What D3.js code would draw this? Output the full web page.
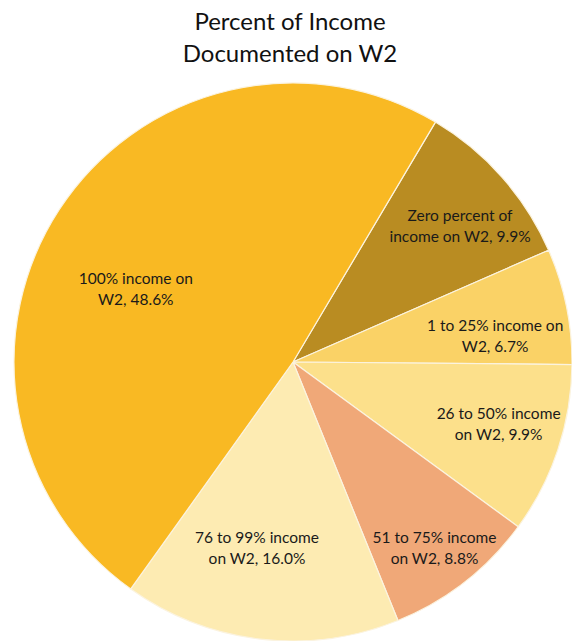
<!DOCTYPE html>
<html>
<head>
<meta charset="utf-8">
<script src="https://cdn.jsdelivr.net/npm/d3@7/dist/d3.min.js"></script>
<style>
  html, body { margin: 0; padding: 0; background: #ffffff; }
  svg { display: block; }
</style>
</head>
<body>
<svg id="chart" width="572" height="641"></svg>
<script>
// ---- data ----
const categories = [
  "Zero percent of income on W2",
  "1 to 25% income on W2",
  "26 to 50% income on W2",
  "51 to 75% income on W2",
  "76 to 99% income on W2",
  "100% income on W2"
];
const values = [9.9, 6.7, 9.9, 8.8, 16.0, 48.6];
const labelLines = [
  ["Zero percent of", "income on W2, 9.9%"],
  ["1 to 25% income on", "W2, 6.7%"],
  ["26 to 50% income", "on W2, 9.9%"],
  ["51 to 75% income", "on W2, 8.8%"],
  ["76 to 99% income", "on W2, 16.0%"],
  ["100% income on", "W2, 48.6%"]
];
const colors = ["#B98C22", "#FAD266", "#FCE08B", "#F0A878", "#FDEBB2", "#F9B923"];
const titleLines = ["Percent of Income", "Documented on W2"];

// ---- layout ----
const W = 572, H = 641;
const cx = 293, cy = 362, R = 279;
const startDeg = 30.7;
const labelRadiusFrac = [0.77, 0.73, 0.77, 0.84, 0.68, 0.62];
const labelAngleShift = [2.5, 4.5, -1.5, 0.8, 4.2, -8.5]; // degrees

const svg = d3.select("#chart");

const pie = d3.pie()
  .sort(null)
  .value(d => d)
  .startAngle(startDeg * Math.PI / 180)
  .endAngle(startDeg * Math.PI / 180 + 2 * Math.PI);

const arcs = pie(values);
const arc = d3.arc().innerRadius(0).outerRadius(R);

const g = svg.append("g").attr("transform", `translate(${cx},${cy})`);

g.selectAll("path.slice")
  .data(arcs)
  .join("path")
  .attr("class", "slice")
  .attr("d", arc)
  .attr("fill", (d, i) => colors[i])
  .attr("stroke", "#fbf3df")
  .attr("stroke-width", 1.2);

const fontFam = "Lato, 'Open Sans', sans-serif";

const labels = g.selectAll("text.lbl")
  .data(arcs)
  .join("text")
  .attr("class", "lbl")
  .attr("text-anchor", "middle")
  .attr("font-family", fontFam)
  .attr("font-size", 15.5)
  .attr("fill", "#1a1a1a")
  .attr("transform", (d, i) => {
    const a = (d.startAngle + d.endAngle) / 2 + labelAngleShift[i] * Math.PI / 180;
    const r = R * labelRadiusFrac[i];
    const x = Math.sin(a) * r, y = -Math.cos(a) * r;
    return `translate(${x},${y})`;
  });

labels.each(function(d, i) {
  const t = d3.select(this);
  const lines = labelLines[i];
  lines.forEach((ln, k) => {
    t.append("tspan")
      .attr("x", 0)
      .attr("y", (k - (lines.length - 1) / 2) * 21 + 5)
      .text(ln);
  });
});

// title
const title = svg.append("text")
  .attr("text-anchor", "middle")
  .attr("font-family", fontFam)
  .attr("font-size", 24)
  .attr("fill", "#111");
titleLines.forEach((ln, k) => {
  title.append("tspan").attr("x", 290).attr("y", 30 + k * 32).text(ln);
});
</script>
</body>
</html>
